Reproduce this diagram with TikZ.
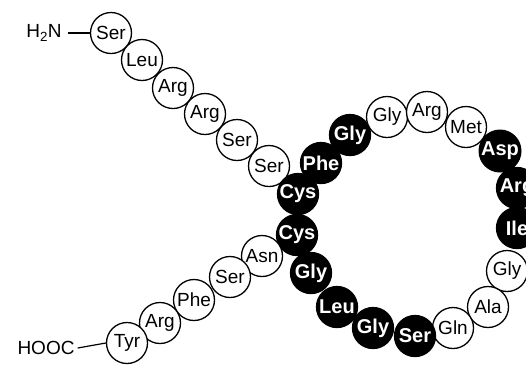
\documentclass[tikz,border=0pt]{standalone}
\usepackage{fontspec}
\setmainfont{Liberation Sans}
\begin{document}
\begin{tikzpicture}[x=1pt,y=-1pt,
  res/.style={circle,draw=black,line width=1.3pt,fill=white,minimum size=41pt,inner sep=0pt,
    font=\fontsize{19}{19}\selectfont},
  dres/.style={res,fill=black,text=white,font=\fontsize{20}{20}\selectfont\bfseries},
  term/.style={inner sep=0pt,font=\fontsize{19}{19}\selectfont},
  bond/.style={line width=1.2pt}]
\clip (0,0) rectangle (526,365);
\fill[white] (0,0) rectangle (526,365);
% N-terminal arm
\node[term] (nterm) at (44,33) {H\textsubscript{2}N};
\node[res] (r1) at (111,33) {Ser};
\node[res] (r2) at (142,60) {Leu};
\node[res] (r3) at (173,88) {Arg};
\node[res] (r4) at (205,114) {Arg};
\node[res] (r5) at (237,140) {Ser};
\node[res] (r6) at (269,166) {Ser};
% disulfide-bonded ring
\node[dres] (r7) at (298,194) {Cys};
\node[dres] (r8) at (321,163) {Phe};
\node[dres] (r9) at (350,135) {Gly};
\node[res] (r10) at (387,117) {Gly};
\node[res] (r11) at (427,112) {Arg};
\node[res] (r12) at (466,127) {Met};
\node[dres] (r13) at (500,151) {Asp};
\node[dres] (r14) at (517,188) {Arg};
\node[dres] (r15) at (517,228) {Ile};
\node[res] (r16) at (507,271) {Gly};
\node[res] (r17) at (488,307) {Ala};
\node[res] (r18) at (453,328) {Gln};
\node[dres] (r19) at (415,336) {Ser};
\node[dres] (r20) at (373,328) {Gly};
\node[dres] (r21) at (337,307) {Leu};
\node[dres] (r22) at (311,273) {Gly};
\node[dres] (r23) at (297,235) {Cys};
% C-terminal arm
\node[res] (r24) at (262,256) {Asn};
\node[res] (r25) at (230,277) {Ser};
\node[res] (r26) at (194,300) {Phe};
\node[res] (r27) at (160,323) {Arg};
\node[res] (r28) at (127,343) {Tyr};
\node[term] (cterm) at (46,348) {HOOC};
% terminal bonds
\draw[bond] ([xshift=6pt]nterm.east) -- (r1.west);
\draw[bond] ([xshift=3pt]cterm.east) -- (r28.west);
\end{tikzpicture}
\end{document}
